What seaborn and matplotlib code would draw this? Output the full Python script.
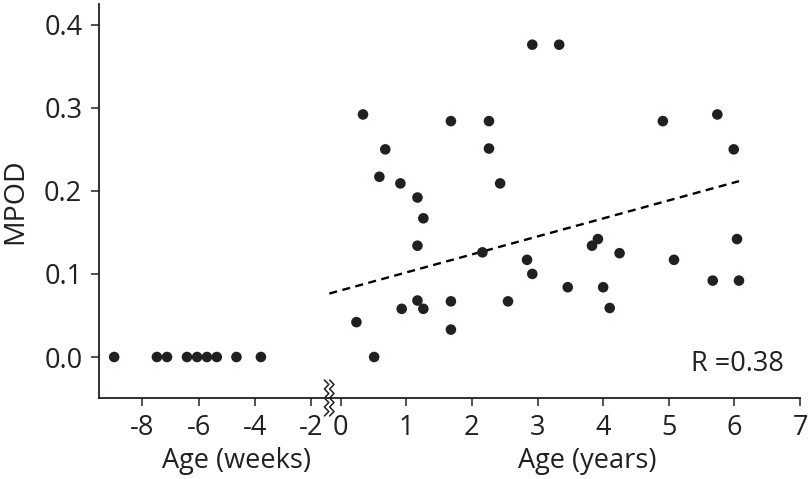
import numpy as np
import pandas as pd
import matplotlib
matplotlib.use("Agg")
import matplotlib.pyplot as plt
import seaborn as sns

# ---------------- data ----------------
weeks_age = [-9.0, -7.48, -7.12, -6.41, -6.05, -5.70, -5.35, -4.65, -3.78]
weeks_mpod = [0.0, 0.0, 0.0, 0.0, 0.0, 0.0, 0.0, 0.0, 0.0]

years_age = [0.24, 0.34, 0.51, 0.59, 0.68, 0.91, 0.93, 1.17, 1.26, 1.17,
             1.17, 1.26, 1.68, 1.68, 1.68, 2.26, 2.26, 2.16, 2.43, 2.55,
             2.84, 2.92, 2.92, 3.33, 3.46, 3.83, 3.92, 4.00, 4.10, 4.25,
             4.91, 5.08, 5.74, 5.67, 5.99, 6.04, 6.07]
years_mpod = [0.042, 0.292, 0.000, 0.217, 0.250, 0.209, 0.058, 0.192, 0.167, 0.134,
              0.068, 0.058, 0.284, 0.067, 0.033, 0.284, 0.251, 0.126, 0.209, 0.067,
              0.117, 0.100, 0.376, 0.376, 0.084, 0.134, 0.142, 0.084, 0.059, 0.125,
              0.284, 0.117, 0.292, 0.092, 0.250, 0.142, 0.092]

weeks_ticks = [-8, -6, -4, -2]
years_ticks = [0, 1, 2, 3, 4, 5, 6, 7]
y_ticks = [0.0, 0.1, 0.2, 0.3, 0.4]
r_label = "R =0.38"
WEEKS_PER_YEAR = 52.0

# ---------------- style ----------------
sns.set_style("white")
plt.rcParams["font.family"] = ["Open Sans", "DejaVu Sans"]
plt.rcParams["axes.unicode_minus"] = False
FS = 19.5
INK = "#231f20"

W, H = 808, 479
fig = plt.figure(figsize=(W / 100, H / 100), dpi=100)

left_px, break_px, right_px = 99, 329.2, 800
bottom_px, top_px = 397.7, 4
ax_b = 1 - bottom_px / H
ax_h = (bottom_px - top_px) / H
ax1 = fig.add_axes([left_px / W, ax_b, (break_px - left_px) / W, ax_h])
ax2 = fig.add_axes([break_px / W, ax_b, (right_px - break_px) / W, ax_h], sharey=ax1)

wk = pd.DataFrame({"age": weeks_age, "mpod": weeks_mpod})
yr = pd.DataFrame({"age": years_age, "mpod": years_mpod})
allpts = pd.DataFrame({
    "age": list(np.array(weeks_age) / WEEKS_PER_YEAR) + years_age,
    "mpod": weeks_mpod + years_mpod,
})

sns.scatterplot(data=wk, x="age", y="mpod", ax=ax1, s=58, color=INK,
                edgecolor="none", clip_on=False, zorder=3)
sns.scatterplot(data=yr, x="age", y="mpod", ax=ax2, s=58, color=INK,
                edgecolor="none", clip_on=False, zorder=3)
sns.regplot(data=allpts, x="age", y="mpod", ax=ax2, scatter=False, ci=None,
            truncate=True, color="black",
            line_kws=dict(lw=1.7, ls=(0, (3.4, 2.3)), clip_on=False))

ax1.set_xlim(-9.54, -1.35)
ax2.set_xlim(-0.175, 7.0)
ax1.set_ylim(-0.049, 0.425)

ax1.set_xticks(weeks_ticks)
ax1.set_xticklabels([str(t) for t in weeks_ticks])
ax2.set_xticks(years_ticks)
ax2.set_xticklabels([str(t) for t in years_ticks])
ax1.set_yticks(y_ticks)
ax1.set_yticklabels([f"{t:.1f}" for t in y_ticks])

for ax in (ax1, ax2):
    ax.set_facecolor("none")
    for s in ("top", "right"):
        ax.spines[s].set_visible(False)
    for s in ("left", "bottom"):
        ax.spines[s].set_linewidth(1.3)
        ax.spines[s].set_color(INK)
    ax.tick_params(axis="both", direction="out", length=6, width=1.1,
                   color=INK, labelsize=FS, labelcolor=INK, pad=6)
    ax.tick_params(axis="x", bottom=True, pad=6)
ax1.tick_params(axis="y", left=True)
ax2.spines["left"].set_visible(False)
ax2.tick_params(axis="y", left=False, labelleft=False)

ax1.set_xlabel("Age (weeks)", fontsize=FS, color=INK)
ax2.set_xlabel("Age (years)", fontsize=FS, color=INK)
ax1.set_ylabel("MPOD", fontsize=FS + 1, color=INK)
ax2.set_ylabel("")
ax1.xaxis.set_label_coords(0.598, -0.125)
ax2.xaxis.set_label_coords(0.549, -0.125)
ax1.yaxis.set_label_coords(-0.302, 0.5)

ax2.text(6.04, -0.0085, r_label, fontsize=FS, color=INK, ha="center", va="center")

# axis-break marks (decoration)
for dx in (-2.6, 2.6):
    ys = [380, 384.5, 389, 393.5, 398, 402.5, 407, 411.5, 416]
    xs = [break_px + dx + (2.2 if i % 2 else -2.2) for i in range(len(ys))]
    xs_f = [x / W for x in xs]
    ys_f = [1 - y / H for y in ys]
    fig.add_artist(plt.Line2D(xs_f, ys_f, transform=fig.transFigure,
                              color=INK, lw=1.1))

fig.savefig("out.png", dpi=100)
